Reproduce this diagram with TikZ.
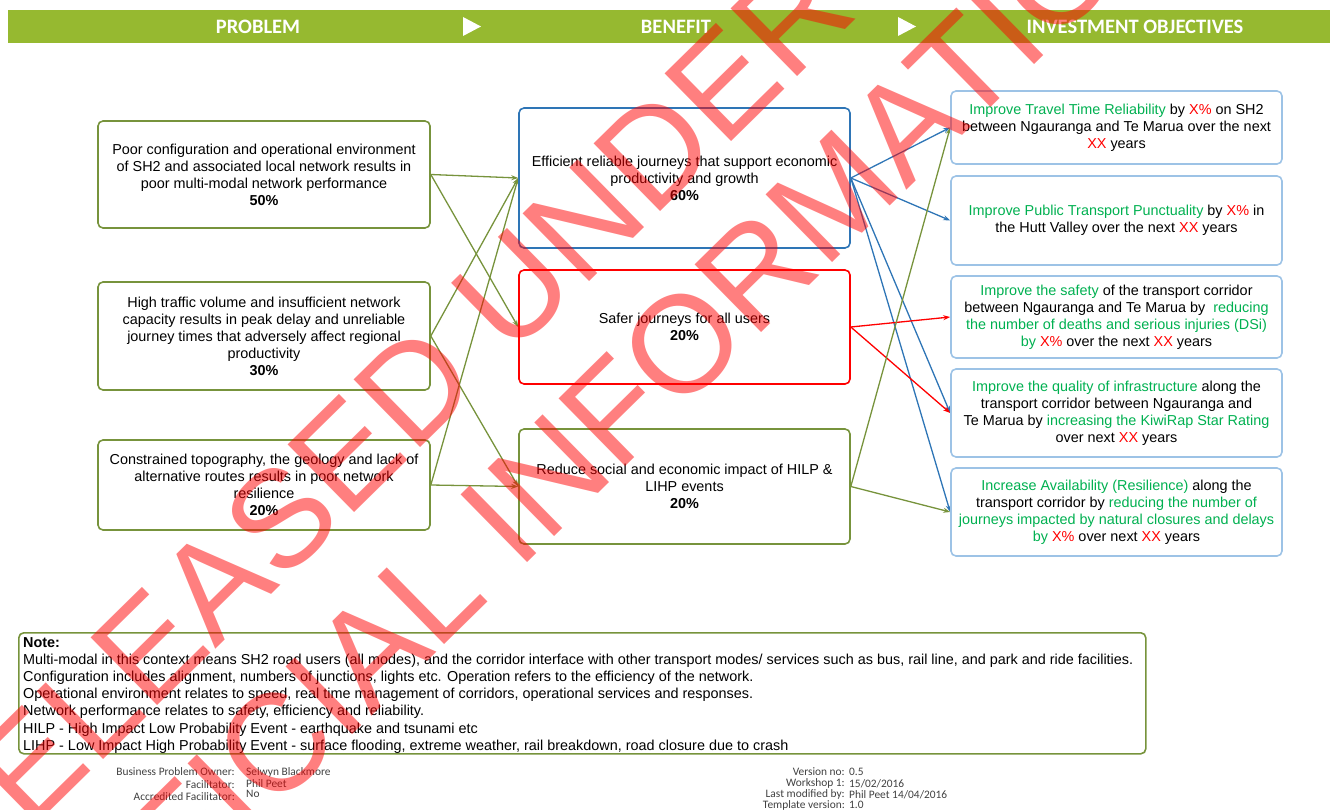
\documentclass[tikz,border=0pt]{standalone}
\usepackage{fontspec}
\setmainfont{Liberation Sans}
\newfontfamily\hdrfont{Carlito}
\usetikzlibrary{arrows.meta}
\pgfdeclarelayer{bg}
\pgfsetlayers{bg,main}
\definecolor{hdrgreen}{RGB}{150,185,48}
\definecolor{olive}{RGB}{119,147,60}
\definecolor{benblue}{RGB}{46,117,182}
\definecolor{objblue}{RGB}{157,195,230}
\definecolor{objgreen}{RGB}{0,176,80}
\newcommand{\ogreen}[1]{\textcolor{objgreen}{#1}}
\newcommand{\ored}[1]{\textcolor{red}{#1}}
\tikzset{
  box/.style={draw, rounded corners=5pt, line width=1.6pt, align=center, inner sep=0pt,
    font=\fontsize{14.4}{17}\selectfont},
  probbox/.style={box, draw=olive, minimum width=332pt},
  benbox/.style={box, minimum width=331pt},
  objbox/.style={box, draw=objblue, minimum width=331pt},
  link/.style={line width=1.3pt, -{Stealth[length=7pt,width=5pt]}},
  hdr/.style={text=white, inner sep=0pt, font=\hdrfont\bfseries\fontsize{20.5}{22}\selectfont},
  foot/.style={inner sep=0pt, text=black!75, font=\hdrfont\fontsize{11.4}{12}\selectfont},
  wm/.style={text=red, opacity=0.5, inner sep=0pt, anchor=west, rotate=44.5,
    font=\fontsize{138}{146}\selectfont},
}

\begin{document}
\begin{tikzpicture}
        \useasboundingbox (0pt,0pt) rectangle (1333pt,-810pt);
        % header bar
        \fill[hdrgreen] (8pt,-10pt) rectangle (1330pt,-43pt);
        \fill[white] (463pt,-17pt) -- (481pt,-26.5pt) -- (463pt,-36pt) -- cycle;
        \fill[white] (898pt,-17pt) -- (916pt,-26.5pt) -- (898pt,-36pt) -- cycle;
        \node (h0) [hdr] at (258pt,-26.5pt) {PROBLEM};
        \node (h1) [hdr] at (676pt,-26.5pt) {BENEFIT};
        \node (h2) [hdr] at (1135pt,-26.5pt) {INVESTMENT OBJECTIVES};

        % problems
        \node (p0) [probbox, minimum height=107pt] at (264pt,-174.5pt) {Poor configuration and operational environment\\
of SH2 and associated local network results in\\ poor multi-modal network performance\\ \textbf{50\%}};
        \node (p1) [probbox, minimum height=108pt] at (264pt,-336pt) {High traffic volume and insufficient network\\
capacity results in peak delay and unreliable\\ journey times that adversely affect regional\\ productivity\\ \textbf{30\%}};
        \node (p2) [probbox, minimum height=90pt] at (264pt,-485pt) {Constrained topography, the geology and lack of\\
alternative routes results in poor network\\ resilience\\ \textbf{20\%}};

        % benefits
        \node (b0) [benbox, draw=benblue, minimum height=140pt] at (684.5pt,-178pt) {Efficient reliable journeys that support economic\\
productivity and growth\\ \textbf{60\%}};
        \node (b1) [benbox, draw=red, minimum height=114pt] at (684.5pt,-327pt) {Safer journeys for all users\\ \textbf{20\%}};
        \node (b2) [benbox, draw=olive, minimum height=115pt] at (684.5pt,-486.5pt) {Reduce social and economic impact of HILP \&\\
LIHP events\\ \textbf{20\%}};

        % investment objectives
        \node (o0) [objbox, minimum height=73pt] at (1116.5pt,-127.5pt) {\ogreen{Improve Travel Time Reliability} by \ored{X\%} on SH2\\
between Ngauranga and Te Marua over the next\\ \ored{XX} years};
        \node (o1) [objbox, minimum height=89pt] at (1116.5pt,-220.5pt) {\ogreen{Improve Public Transport Punctuality} by \ored{X\%} in\\
the Hutt Valley over the next \ored{XX} years};
        \node (o2) [objbox, minimum height=82pt] at (1116.5pt,-317pt) {\ogreen{Improve the safety} of the transport corridor\\
between Ngauranga and Te Marua by \ \ogreen{reducing}\\ \ogreen{the number of deaths and serious injuries (DSi)}\\
\ogreen{by} \ored{X\%} over the next \ored{XX} years};
        \node (o3) [objbox, minimum height=88pt] at (1116.5pt,-413pt) {\ogreen{Improve the quality of infrastructure} along the\\
transport corridor between Ngauranga and\\ Te Marua by \ogreen{increasing the KiwiRap Star Rating}\\ over next \ored{XX} years};
        \node (o4) [objbox, minimum height=88pt] at (1116.5pt,-512pt) {\ogreen{Increase Availability (Resilience)} along the\\
transport corridor by \ogreen{reducing the number of}\\ \ogreen{journeys impacted by natural closures and delays}\\
\ogreen{by} \ored{X\%} over next \ored{XX} years};

        % note
        \node (note) [draw=olive, line width=1.6pt, rounded corners=5pt, anchor=north west,
                minimum width=1127pt, minimum height=121pt] at (18pt,-632pt) {};
        \node (notetext) [anchor=north west, align=left, inner sep=0pt,
                font=\fontsize{14.4}{17.2}\selectfont] at (23pt,-637pt) {\textbf{Note:}\\
Multi-modal in this context means SH2 road users (all modes), and the corridor interface with other transport modes/ services such as bus, rail line, and park and ride facilities.\\
Configuration includes alignment, numbers of junctions, lights etc. Operation refers to the efficiency of the network.\\
Operational environment relates to speed, real time management of corridors, operational services and responses.\\
Network performance relates to safety, efficiency and reliability.\\
HILP - High Impact Low Probability Event - earthquake and tsunami etc\\
LIHP - Low Impact High Probability Event - surface flooding, extreme weather, rail breakdown, road closure due to crash};

        % footer
        \node (f0) [foot, anchor=east] at (235pt,-772pt) {Business Problem Owner:};
        \node (f1) [foot, anchor=east] at (235pt,-784.5pt) {Facilitator:};
        \node (f2) [foot, anchor=east] at (235pt,-797pt) {Accredited Facilitator:};
        \node (g0) [foot, anchor=west] at (246pt,-772pt) {Selwyn Blackmore};
        \node (g1) [foot, anchor=west] at (246pt,-783.5pt) {Phil Peet};
        \node (g2) [foot, anchor=west] at (246pt,-794pt) {No};
        \node (f3) [foot, anchor=east] at (845pt,-772pt) {Version no:};
        \node (f4) [foot, anchor=east] at (845pt,-783.5pt) {Workshop 1:};
        \node (f5) [foot, anchor=east] at (845pt,-794.5pt) {Last modified by:};
        \node (f6) [foot, anchor=east] at (845pt,-805pt) {Template version:};
        \node (g3) [foot, anchor=west] at (849pt,-772pt) {0.5};
        \node (g4) [foot, anchor=west] at (849pt,-783.5pt) {15/02/2016};
        \node (g5) [foot, anchor=west] at (849pt,-794.5pt) {Phil Peet 14/04/2016};
        \node (g6) [foot, anchor=west] at (849pt,-805pt) {1.0};

        \begin{pgfonlayer}{bg}
                \draw (p0.east) edge [link, olive] (b0.west);
                \draw (p0.east) edge [link, olive] (b1.west);
                \draw (p1.east) edge [link, olive] (b0.west);
                \draw (p1.east) edge [link, olive] (b2.west);
                \draw (p2.east) edge [link, olive] (b0.west);
                \draw (p2.east) edge [link, olive] (b2.west);
                \draw (b0.east) edge [link, benblue] (o0.west);
                \draw (b0.east) edge [link, benblue] (o1.west);
                \draw (b0.east) edge [link, benblue] (o3.west);
                \draw (b0.east) edge [link, benblue] (o4.west);
                \draw (b1.east) edge [link, red] (o2.west);
                \draw (b1.east) edge [link, red] (o3.west);
                \draw (b2.east) edge [link, olive] (o0.west);
                \draw (b2.east) edge [link, olive] (o4.west);
        \end{pgfonlayer}

        % watermark
        \node (w0) [wm] at (-75pt,-868pt) {RELEASED UNDER THE};
        \node (w1) [wm] at (15pt,-1000pt) {OFFICIAL INFORMATION ACT};
\end{tikzpicture}
\end{document}
